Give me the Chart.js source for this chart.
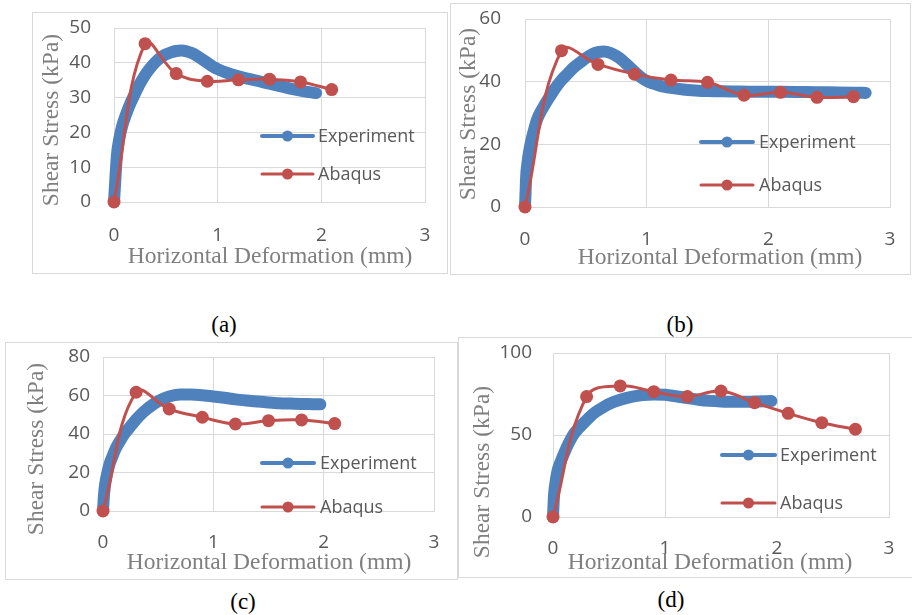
<!DOCTYPE html>
<html lang="en">
<head>
<meta charset="UTF-8">
<title>Shear Stress vs Horizontal Deformation</title>
<script src="https://cdn.jsdelivr.net/npm/chart.js"></script>
<style>
  body { margin: 0; background: #fff; }
  #page { position: relative; width: 912px; height: 615px; overflow: hidden; background: #fff; }
  .box { position: absolute; border: 1px solid #D9D9D9; box-sizing: border-box; background: #fff; }
  .box canvas { display: block; }
  .cap { position: absolute; font-family: "Liberation Serif", "Times New Roman", serif; font-size: 23px; color: #000; transform: translate(-50%, -50%); }
</style>
</head>
<body>
<div id="page">
  <div class="box" style="left:32px; top:12px; width:416px; height:262px;"><canvas id="chartA" width="414" height="260"></canvas></div>
  <div class="box" style="left:450px; top:3px; width:461px; height:272px;"><canvas id="chartB" width="459" height="270"></canvas></div>
  <div class="box" style="left:5px; top:342px; width:453px; height:238px;"><canvas id="chartC" width="451" height="236"></canvas></div>
  <div class="box" style="left:458px; top:337px; width:455px; height:241px;"><canvas id="chartD" width="453" height="239"></canvas></div>
  <div class="cap" style="left:224px; top:325px;">(a)</div>
  <div class="cap" style="left:680px; top:325px;">(b)</div>
  <div class="cap" style="left:243px; top:602px;">(c)</div>
  <div class="cap" style="left:671px; top:600px;">(d)</div>
</div>

<script>
// ---- data ----
const xTicks = [0, 1, 2, 3];

// (a)
const yTicksA = [0, 10, 20, 30, 40, 50];
const expAx = [0, 0.01, 0.02, 0.03, 0.05, 0.08, 0.12, 0.16, 0.2, 0.25, 0.3, 0.35, 0.4, 0.45, 0.5, 0.55, 0.6, 0.65, 0.7, 0.75, 0.8, 0.85, 0.9, 0.95, 1.0, 1.1, 1.2, 1.3, 1.4, 1.5, 1.6, 1.7, 1.8, 1.9, 1.95];
const expAy = [0, 5, 10, 14, 18, 22, 25.5, 28.5, 31, 34, 36.5, 38.5, 40.2, 41.5, 42.4, 43, 43.4, 43.5, 43.3, 42.8, 42, 41, 40, 39, 38.2, 37, 36.1, 35.4, 34.7, 34, 33.3, 32.6, 32, 31.5, 31.3];
const abqAx = [0, 0.3, 0.6, 0.9, 1.2, 1.5, 1.8, 2.1];
const abqAy = [0, 45.5, 36.9, 34.7, 35.1, 35.3, 34.5, 32.3];

// (b)
const yTicksB = [0, 20, 40, 60];
const expBx = [0, 0.005, 0.01, 0.02, 0.04, 0.07, 0.1, 0.13, 0.16, 0.2, 0.25, 0.3, 0.35, 0.4, 0.45, 0.5, 0.55, 0.6, 0.65, 0.7, 0.75, 0.8, 0.85, 0.9, 0.95, 1.0, 1.1, 1.2, 1.3, 1.4, 1.5, 1.7, 1.9, 2.1, 2.3, 2.5, 2.7, 2.8];
const expBy = [0, 5, 10, 14, 19, 24, 28, 30.5, 32.5, 35, 38, 40.5, 42.5, 44.5, 46, 47.5, 48.7, 49.4, 49.6, 49.2, 48.2, 46.8, 45, 43.2, 41.5, 40.2, 38.8, 38, 37.5, 37.2, 37, 36.9, 36.8, 36.8, 36.7, 36.6, 36.5, 36.4];
const abqBx = [0, 0.3, 0.6, 0.9, 1.2, 1.5, 1.8, 2.1, 2.4, 2.7];
const abqBy = [0, 49.9, 45.5, 42.4, 40.5, 39.8, 35.7, 36.6, 35.0, 35.2];

// (c)
const yTicksC = [0, 20, 40, 60, 80];
const expCx = [0, 0.005, 0.01, 0.02, 0.04, 0.06, 0.09, 0.12, 0.16, 0.2, 0.25, 0.3, 0.35, 0.4, 0.45, 0.5, 0.55, 0.6, 0.65, 0.7, 0.8, 0.9, 1.0, 1.1, 1.2, 1.3, 1.4, 1.5, 1.6, 1.7, 1.8, 1.9, 1.97];
const expCy = [0, 5, 9, 14, 20, 24.5, 29, 33, 37, 40.5, 44, 47.5, 50.5, 53, 55.2, 57, 58.4, 59.5, 60.2, 60.5, 60.5, 60.1, 59.5, 58.8, 58, 57.4, 56.9, 56.4, 56, 55.8, 55.6, 55.5, 55.4];
const abqCx = [0, 0.3, 0.6, 0.9, 1.2, 1.5, 1.8, 2.1];
const abqCy = [0, 61.7, 53, 48.7, 45.2, 46.9, 47.3, 45.4];

// (d)
const yTicksD = [0, 50, 100];
const expDx = [0, 0.005, 0.01, 0.02, 0.04, 0.07, 0.1, 0.14, 0.18, 0.22, 0.27, 0.32, 0.38, 0.45, 0.52, 0.6, 0.7, 0.8, 0.9, 1.0, 1.1, 1.2, 1.3, 1.4, 1.5, 1.6, 1.7, 1.8, 1.9, 1.95];
const expDy = [0, 8, 14, 20, 28, 34, 39, 45, 50, 53.5, 57, 60.5, 64, 67, 69.5, 71.5, 73.3, 74.3, 74.7, 74.5, 73.6, 72.5, 71.5, 70.8, 70.4, 70.2, 70.2, 70.4, 70.6, 70.7];
const abqDx = [0, 0.3, 0.6, 0.9, 1.2, 1.5, 1.8, 2.1, 2.4, 2.7];
const abqDy = [0, 73.4, 79.9, 76.4, 73.4, 76.8, 69.7, 63.2, 57.5, 53.5];

const xTitle = 'Horizontal Deformation (mm)';
const yTitle = 'Shear Stress (kPa)';
const seriesNames = ['Experiment', 'Abaqus'];

// ---- layout (canvas pixels) ----
const layoutA = { yAxisW: 81, xAxisH: 71, padTop: 15, padRight: 22, yTickPad: 23, xTickPad: 22,
  yTitle: [19, 107], xTitle: [237, 244], legend: { x0: 229, x1: 280, tx: 285, y: [123, 161] } };
const layoutB = { yAxisW: 74, xAxisH: 67, padTop: 15, padRight: 20, yTickPad: 24, xTickPad: 21,
  yTitle: [18, 110], xTitle: [269, 254], legend: { x0: 250, x1: 302, tx: 308, y: [138, 181] } };
const layoutC = { yAxisW: 97, xAxisH: 68, padTop: 14, padRight: 23, yTickPad: 13, xTickPad: 20,
  yTitle: [31, 106], xTitle: [263, 220], legend: { x0: 256, x1: 308, tx: 314, y: [120, 164] } };
const layoutD = { yAxisW: 94, xAxisH: 60, padTop: 15, padRight: 23, yTickPad: 21, xTickPad: 20,
  yTitle: [24, 134], xTitle: [251, 225], legend: { x0: 263, x1: 316, tx: 321, y: [117, 165] } };

const BLUE = '#4F81BD';
const RED = '#C0504D';
const GRID = '#D9D9D9';

Chart.defaults.font.family = '"Open Sans", sans-serif';
Chart.defaults.font.size = 19;
Chart.defaults.color = '#595959';

function pts(xs, ys) {
  return xs.map((x, i) => ({ x: x, y: ys[i] }));
}

// axis titles + Excel style legend (line with marker) drawn on the canvas
const decorPlugin = {
  id: 'decor',
  afterDraw(chart, args, opts) {
    const ctx = chart.ctx;
    const L = opts.layout;
    ctx.save();
    ctx.fillStyle = '#7F7F7F';
    ctx.font = '23.5px "Liberation Serif", "Times New Roman", serif';
    ctx.textAlign = 'center';
    ctx.textBaseline = 'middle';
    ctx.fillText(xTitle, L.xTitle[0], L.xTitle[1]);
    ctx.save();
    ctx.translate(L.yTitle[0], L.yTitle[1]);
    ctx.rotate(-Math.PI / 2);
    ctx.fillText(yTitle, 0, 0);
    ctx.restore();

    // legend
    ctx.font = '18px "Open Sans", sans-serif';
    ctx.textAlign = 'left';
    chart.data.datasets.forEach((ds, i) => {
      const y = L.legend.y[i];
      ctx.strokeStyle = ds.borderColor;
      ctx.lineWidth = ds.legendLineWidth;
      ctx.lineCap = 'round';
      ctx.beginPath();
      ctx.moveTo(L.legend.x0, y);
      ctx.lineTo(L.legend.x1, y);
      ctx.stroke();
      ctx.fillStyle = ds.borderColor;
      ctx.beginPath();
      ctx.arc((L.legend.x0 + L.legend.x1) / 2, y, 5.5, 0, Math.PI * 2);
      ctx.fill();
      ctx.fillStyle = '#595959';
      ctx.fillText(ds.label, L.legend.tx, y + 1);
    });
    ctx.restore();
  }
};

function makeChart(id, expX, expY, abqX, abqY, yTicks, L) {
  new Chart(document.getElementById(id).getContext('2d'), {
    type: 'line',
    data: {
      datasets: [
        {
          label: seriesNames[0],
          data: pts(expX, expY),
          borderColor: BLUE,
          backgroundColor: BLUE,
          borderWidth: 12,
          borderCapStyle: 'round',
          borderJoinStyle: 'round',
          cubicInterpolationMode: 'monotone',
          pointRadius: 0,
          pointHoverRadius: 0,
          legendLineWidth: 4,
          clip: false,
          order: 1
        },
        {
          label: seriesNames[1],
          data: pts(abqX, abqY),
          borderColor: RED,
          backgroundColor: RED,
          borderWidth: 3,
          tension: 0.4,
          pointRadius: 6.5,
          pointHoverRadius: 6.5,
          pointBorderWidth: 0,
          pointBackgroundColor: RED,
          legendLineWidth: 3,
          clip: false,
          order: 0
        }
      ]
    },
    options: {
      responsive: false,
      animation: false,
      events: [],
      layout: { padding: { top: L.padTop, right: L.padRight, left: 0, bottom: 0 } },
      plugins: {
        legend: { display: false },
        tooltip: { enabled: false },
        decor: { layout: L }
      },
      scales: {
        x: {
          type: 'linear',
          min: xTicks[0],
          max: xTicks[xTicks.length - 1],
          ticks: { stepSize: xTicks[1] - xTicks[0], padding: 0 },
          // invisible tick marks push the labels away from the plot
          grid: { color: GRID, lineWidth: 1, drawTicks: true, tickLength: L.xTickPad, tickColor: 'rgba(0,0,0,0)' },
          border: { color: GRID },
          afterFit: s => { s.height = L.xAxisH; }
        },
        y: {
          min: yTicks[0],
          max: yTicks[yTicks.length - 1],
          ticks: { stepSize: yTicks[1] - yTicks[0], padding: 0 },
          grid: { color: GRID, lineWidth: 1, drawTicks: true, tickLength: L.yTickPad, tickColor: 'rgba(0,0,0,0)' },
          border: { color: GRID },
          afterFit: s => { s.width = L.yAxisW; }
        }
      }
    },
    plugins: [decorPlugin]
  });
}

makeChart('chartA', expAx, expAy, abqAx, abqAy, yTicksA, layoutA);
makeChart('chartB', expBx, expBy, abqBx, abqBy, yTicksB, layoutB);
makeChart('chartC', expCx, expCy, abqCx, abqCy, yTicksC, layoutC);
makeChart('chartD', expDx, expDy, abqDx, abqDy, yTicksD, layoutD);
</script>
</body>
</html>
